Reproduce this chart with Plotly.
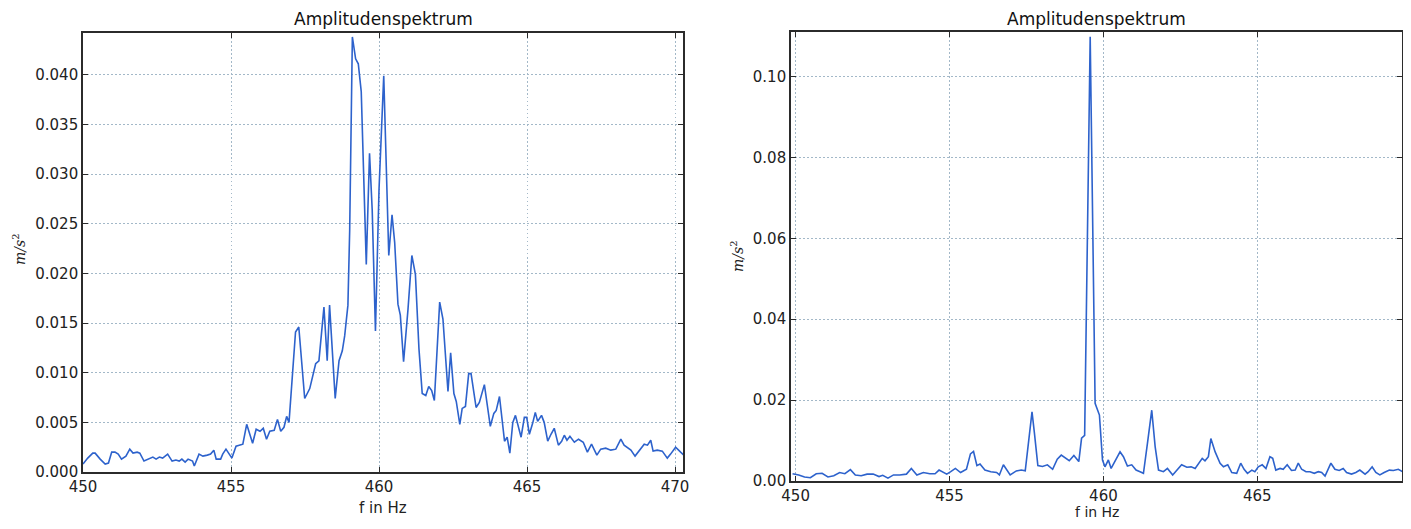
import plotly.graph_objects as go

# page shows the figure offset by the default 8px body margin
OFF = 8
W, H = 1411 - 2 * OFF, 529 - 2 * OFF

# ---------------- data ----------------
left_freq = [450.00, 450.16, 450.33, 450.41, 450.58, 450.75, 450.86, 450.97, 451.08, 451.19,
             451.30, 451.45, 451.58, 451.69, 451.83, 451.92, 452.06, 452.19, 452.36, 452.47,
             452.58, 452.69, 452.86, 453.01, 453.14, 453.25, 453.34, 453.45, 453.55, 453.70,
             453.76, 453.92, 454.05, 454.20, 454.31, 454.42, 454.50, 454.65, 454.72, 454.83,
             454.92, 455.03, 455.17, 455.31, 455.40, 455.53, 455.64, 455.73, 455.85, 455.98,
             456.09, 456.20, 456.31, 456.46, 456.57, 456.68, 456.79, 456.88, 456.96,
             457.18, 457.29, 457.49, 457.66, 457.86, 457.97, 458.14, 458.25, 458.33, 458.52,
             458.65, 458.76, 458.84, 458.95, 459.01, 459.10, 459.21, 459.30, 459.40, 459.57,
             459.68, 459.77, 459.88, 460.00, 460.16, 460.33, 460.44, 460.53, 460.64, 460.72,
             460.83, 460.98, 461.11, 461.23, 461.35, 461.46, 461.58, 461.68, 461.78, 461.87,
             461.96, 462.05, 462.16, 462.33, 462.42, 462.53, 462.61, 462.73, 462.81, 462.92,
             463.03, 463.11, 463.28, 463.39, 463.56, 463.76, 463.88, 463.96, 464.07, 464.24,
             464.33, 464.42, 464.52, 464.61, 464.80, 464.91, 464.99, 465.08, 465.19, 465.28,
             465.36, 465.49, 465.58, 465.70, 465.81, 465.92, 466.06, 466.17, 466.26, 466.35,
             466.45, 466.60, 466.74, 466.90, 467.04, 467.18, 467.36, 467.49, 467.66, 467.83,
             468.00, 468.17, 468.28, 468.39, 468.51, 468.65, 468.79, 468.96, 469.07, 469.18,
             469.26, 469.40, 469.57, 469.74, 469.85, 470.02, 470.19, 470.30]
left_amp = [0.0008, 0.0014, 0.0019, 0.0019, 0.0013, 0.0008, 0.0009, 0.0020, 0.0020, 0.0018,
            0.0013, 0.0016, 0.0023, 0.0019, 0.0020, 0.0019, 0.0011, 0.0013, 0.0015, 0.0013,
            0.0015, 0.0014, 0.0018, 0.0011, 0.0012, 0.0011, 0.0013, 0.0010, 0.0013, 0.0011,
            0.0006, 0.0018, 0.0016, 0.0017, 0.0018, 0.0022, 0.0013, 0.0013, 0.0018, 0.0023,
            0.0019, 0.0014, 0.0026, 0.0027, 0.0028, 0.0048, 0.0038, 0.0029, 0.0043, 0.0041,
            0.0044, 0.0033, 0.0041, 0.0042, 0.0053, 0.0041, 0.0045, 0.0056, 0.0050,
            0.0141, 0.0146, 0.0074, 0.0084, 0.0109, 0.0112, 0.0166, 0.0112, 0.0168, 0.0074,
            0.0112, 0.0122, 0.0137, 0.0168, 0.0244, 0.0438, 0.0416, 0.0411, 0.0383, 0.0209,
            0.0321, 0.0264, 0.0142, 0.0284, 0.0399, 0.0218, 0.0259, 0.0231, 0.0169, 0.0158,
            0.0111, 0.0164, 0.0218, 0.0199, 0.0124, 0.0079, 0.0077, 0.0086, 0.0082, 0.0072,
            0.0129, 0.0171, 0.0154, 0.0081, 0.0120, 0.0079, 0.0071, 0.0048, 0.0064, 0.0066,
            0.0099, 0.0099, 0.0065, 0.0070, 0.0088, 0.0046, 0.0059, 0.0062, 0.0076, 0.0031,
            0.0035, 0.0019, 0.0050, 0.0057, 0.0035, 0.0055, 0.0055, 0.0038, 0.0049, 0.0060,
            0.0051, 0.0057, 0.0050, 0.0031, 0.0038, 0.0044, 0.0027, 0.0031, 0.0037, 0.0032,
            0.0036, 0.0030, 0.0033, 0.0030, 0.0020, 0.0028, 0.0017, 0.0023, 0.0024, 0.0022,
            0.0023, 0.0033, 0.0027, 0.0025, 0.0022, 0.0016, 0.0022, 0.0028, 0.0027, 0.0032,
            0.0021, 0.0022, 0.0021, 0.0014, 0.0018, 0.0025, 0.0020, 0.0017]

right_freq = [449.90, 450.10, 450.29, 450.48, 450.67, 450.86, 451.05, 451.24, 451.43, 451.60,
              451.78, 451.94, 452.13, 452.32, 452.52, 452.71, 452.83, 453.00, 453.18, 453.38,
              453.60, 453.76, 453.94, 454.15, 454.36, 454.53, 454.66, 454.81, 454.91, 455.04,
              455.19, 455.36, 455.55, 455.68, 455.78, 455.89, 455.99, 456.15, 456.34, 456.53,
              456.62, 456.75, 456.85, 456.97, 457.17, 457.33, 457.46, 457.59, 457.68, 457.76,
              457.87, 458.02, 458.18, 458.35, 458.50, 458.63, 458.76, 458.89, 459.04, 459.20,
              459.29, 459.39, 459.57, 459.73, 459.87, 459.97, 460.05, 460.16, 460.25, 460.38,
              460.54, 460.65, 460.78, 460.92, 461.06, 461.19, 461.30, 461.43, 461.57, 461.68,
              461.79, 461.95, 462.08, 462.25, 462.38, 462.54, 462.71, 462.85, 462.98, 463.12,
              463.21, 463.30, 463.41, 463.49, 463.63, 463.79, 463.90, 464.04, 464.17, 464.33,
              464.46, 464.57, 464.68, 464.82, 464.92, 465.03, 465.16, 465.28, 465.41, 465.50,
              465.60, 465.74, 465.84, 465.97, 466.11, 466.23, 466.33, 466.44, 466.58, 466.71,
              466.85, 466.98, 467.09, 467.20, 467.39, 467.52, 467.66, 467.79, 467.90, 468.06,
              468.20, 468.33, 468.50, 468.60, 468.73, 468.85, 468.98, 469.12, 469.29, 469.42,
              469.58, 469.76]
right_amp = [0.0018, 0.0015, 0.0010, 0.0008, 0.0018, 0.0019, 0.0010, 0.0013, 0.0021, 0.0018,
             0.0028, 0.0015, 0.0013, 0.0017, 0.0017, 0.0011, 0.0014, 0.0007, 0.0015, 0.0015,
             0.0017, 0.0031, 0.0015, 0.0021, 0.0018, 0.0018, 0.0027, 0.0021, 0.0017, 0.0023,
             0.0031, 0.0021, 0.0029, 0.0067, 0.0073, 0.0038, 0.0042, 0.0027, 0.0023, 0.0021,
             0.0015, 0.0040, 0.0029, 0.0015, 0.0025, 0.0027, 0.0025, 0.0117, 0.0171, 0.0117,
             0.0038, 0.0036, 0.0040, 0.0029, 0.0054, 0.0064, 0.0057, 0.0050, 0.0063, 0.0048,
             0.0106, 0.0113, 0.1098, 0.0192, 0.0163, 0.0052, 0.0035, 0.0052, 0.0031, 0.0048,
             0.0072, 0.0060, 0.0037, 0.0040, 0.0027, 0.0023, 0.0019, 0.0093, 0.0175, 0.0085,
             0.0027, 0.0023, 0.0031, 0.0015, 0.0027, 0.0040, 0.0034, 0.0035, 0.0031, 0.0048,
             0.0056, 0.0050, 0.0060, 0.0105, 0.0072, 0.0044, 0.0035, 0.0040, 0.0021, 0.0019,
             0.0044, 0.0029, 0.0019, 0.0027, 0.0023, 0.0035, 0.0040, 0.0031, 0.0060, 0.0056,
             0.0027, 0.0031, 0.0029, 0.0040, 0.0026, 0.0027, 0.0044, 0.0029, 0.0023, 0.0023,
             0.0019, 0.0023, 0.0021, 0.0012, 0.0044, 0.0029, 0.0026, 0.0031, 0.0021, 0.0017,
             0.0021, 0.0027, 0.0017, 0.0023, 0.0035, 0.0021, 0.0015, 0.0021, 0.0027, 0.0026,
             0.0029, 0.0021]

left_yticks = [0.000, 0.005, 0.010, 0.015, 0.020, 0.025, 0.030, 0.035, 0.040]
right_yticks = [0.00, 0.02, 0.04, 0.06, 0.08, 0.10]
x_ticks = [450, 455, 460, 465, 470]

title_text = "Amplitudenspektrum"
x_title = "f in Hz"
y_title = "<i>m/s</i><sup>2</sup>"

# ---------------- style ----------------
LINE = "#2d62cc"
SPINE = "#2b2b2b"
GRID = "#a3b8c8"
FONT = "DejaVu Sans"
DASH = "1.5px,2.5px"


def px(x):
    return (x - OFF) / W


def py(y):
    return 1 - (y - OFF) / H


def xaxis(domain, rng, anchor):
    return dict(domain=domain, range=rng, tickvals=x_ticks, ticktext=[str(t) for t in x_ticks],
                anchor=anchor, automargin=False,
                showline=True, linecolor=SPINE, linewidth=1.6, mirror="ticks",
                ticks="inside", ticklen=5, tickcolor=SPINE, tickwidth=1,
                showgrid=True, gridcolor=GRID, griddash=DASH, gridwidth=1.2,
                zeroline=False, tickfont=dict(family=FONT, size=15, color="#222"))


def yaxis(domain, rng, ticks, fmt, anchor):
    return dict(domain=domain, range=rng, tickvals=ticks, tickformat=fmt, anchor=anchor,
                automargin=False,
                showline=True, linecolor=SPINE, linewidth=1.6, mirror="ticks",
                ticks="inside", ticklen=5, tickcolor=SPINE, tickwidth=1,
                showgrid=True, gridcolor=GRID, griddash=DASH, gridwidth=1.2,
                zeroline=False, tickfont=dict(family=FONT, size=15, color="#222"))


fig = go.Figure()
fig.add_trace(go.Scatter(x=left_freq, y=left_amp, mode="lines",
                         line=dict(color=LINE, width=1.6), xaxis="x", yaxis="y",
                         showlegend=False))
fig.add_trace(go.Scatter(x=right_freq, y=right_amp, mode="lines",
                         line=dict(color=LINE, width=1.6), xaxis="x2", yaxis="y2",
                         showlegend=False))

lx0, lx1, ly0, ly1 = 83, 683, 472, 33
rx0, rx1, ry0, ry1 = 791, 1402, 481, 32

fig.update_layout(
    width=W, height=H,
    margin=dict(l=0, r=0, t=0, b=0, autoexpand=False),
    paper_bgcolor="white", plot_bgcolor="white",
    xaxis=xaxis([px(lx0), px(lx1)], [450, 470.27], "y"),
    yaxis=yaxis([py(ly0), py(ly1)], [0, 0.0442], left_yticks, ".3f", "x"),
    xaxis2=xaxis([px(rx0), px(rx1)], [449.85, 469.70], "y2"),
    yaxis2=yaxis([py(ry0), py(ry1)], [0, 0.111], right_yticks, ".2f", "x2"),
)

annotations = []
for cx, ty, yx, yy in [((lx0 + lx1) / 2, 19, 19, 250),
                       ((rx0 + rx1) / 2, 19, 737, 257)]:
    annotations.append(dict(x=px(cx), y=py(ty), xref="paper", yref="paper", text=title_text,
                            showarrow=False, xanchor="center", yanchor="middle",
                            font=dict(family=FONT, size=17, color="#111")))
    annotations.append(dict(x=px(yx), y=py(yy), xref="paper", yref="paper", text=y_title,
                            showarrow=False, xanchor="center", yanchor="middle", textangle=-90,
                            font=dict(family="DejaVu Serif", size=14, color="#222")))
# x-axis titles
annotations.append(dict(x=px((lx0 + lx1) / 2), y=py(508), xref="paper", yref="paper",
                        text=x_title, showarrow=False, xanchor="center", yanchor="middle",
                        font=dict(family=FONT, size=15, color="#222")))
annotations.append(dict(x=px((rx0 + rx1) / 2), y=0, xref="paper", yref="paper",
                        text=x_title, showarrow=False, xanchor="center", yanchor="bottom",
                        borderpad=0, font=dict(family=FONT, size=14, color="#222")))
fig.update_layout(annotations=annotations)

fig.write_html("out.html")
